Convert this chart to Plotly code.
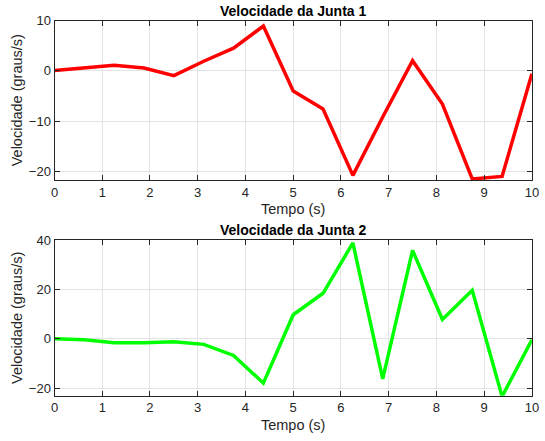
import plotly.graph_objects as go

tempo = [0, 0.625, 1.25, 1.875, 2.5, 3.125, 3.75, 4.375, 5, 5.625, 6.25,
         6.875, 7.5, 8.125, 8.75, 9.375, 10]
vel_junta1 = [0.05, 0.5, 1.1, 0.55, -0.95, 1.9, 4.5, 8.9, -4.0, -7.6, -20.8,
              -9.2, 2.0, -6.6, -21.5, -21.0, -0.6]
vel_junta2 = [0.0, -0.4, -1.6, -1.6, -1.2, -2.3, -6.8, -18.0, 9.7, 18.4, 38.8,
              -16.3, 35.8, 7.8, 19.6, -23.4, -0.4]
xticks = [0, 1, 2, 3, 4, 5, 6, 7, 8, 9, 10]
yticks1 = [-20, -10, 0, 10]
yticks2 = [-20, 0, 20, 40]

font_family = "Liberation Sans, Arial, sans-serif"
axis_col = "#262626"
grid_col = "#e3e3e3"

fig = go.Figure()
fig.add_trace(go.Scatter(x=tempo, y=vel_junta1, mode="lines",
                         line=dict(color="#ff0000", width=3.5),
                         xaxis="x", yaxis="y", showlegend=False))
fig.add_trace(go.Scatter(x=tempo, y=vel_junta2, mode="lines",
                         line=dict(color="#00ff00", width=3.5),
                         xaxis="x2", yaxis="y2", showlegend=False))

common_ax = dict(showline=True, linecolor=axis_col, linewidth=1, mirror="allticks",
                 ticks="inside", ticklen=5, tickcolor=axis_col, automargin=False,
                 showgrid=True, gridcolor=grid_col, gridwidth=1, zeroline=False,
                 tickfont=dict(family=font_family, size=13, color=axis_col),
                 title_font=dict(family=font_family, size=14.5, color=axis_col))

fig.update_layout(
    template="none",
    width=545, height=441,
    margin=dict(l=0, r=0, t=0, b=0),
    paper_bgcolor="white", plot_bgcolor="white",
    font=dict(family=font_family, color=axis_col),
    xaxis=dict(domain=[0.1, 0.976], anchor="y", range=[0, 10], tickvals=xticks,
               title=dict(text="Tempo (s)", standoff=5), **common_ax),
    yaxis=dict(domain=[0.592, 0.9535], anchor="x", range=[-21.7, 10], tickvals=yticks1,
               title=dict(text="Velocidade (graus/s)", standoff=2), **common_ax),
    xaxis2=dict(domain=[0.1, 0.976], anchor="y2", range=[0, 10], tickvals=xticks,
                title=dict(text="Tempo (s)", standoff=5), **common_ax),
    yaxis2=dict(domain=[0.1027, 0.4558], anchor="x2", range=[-23.1, 40], tickvals=yticks2,
                title=dict(text="Velocidade (graus/s)", standoff=2), **common_ax),
    annotations=[
        dict(text="<b>Velocidade da Junta 1</b>", x=0.538, y=0.9535, xref="paper", yref="paper",
             xanchor="center", yanchor="bottom", showarrow=False, yshift=0,
             font=dict(family=font_family, size=14, color="black")),
        dict(text="<b>Velocidade da Junta 2</b>", x=0.538, y=0.4558, xref="paper", yref="paper",
             xanchor="center", yanchor="bottom", showarrow=False, yshift=0,
             font=dict(family=font_family, size=14, color="black")),
    ],
)

fig.write_html("out.html", post_script="document.body.style.margin='0px';",
               config={"displayModeBar": False})
